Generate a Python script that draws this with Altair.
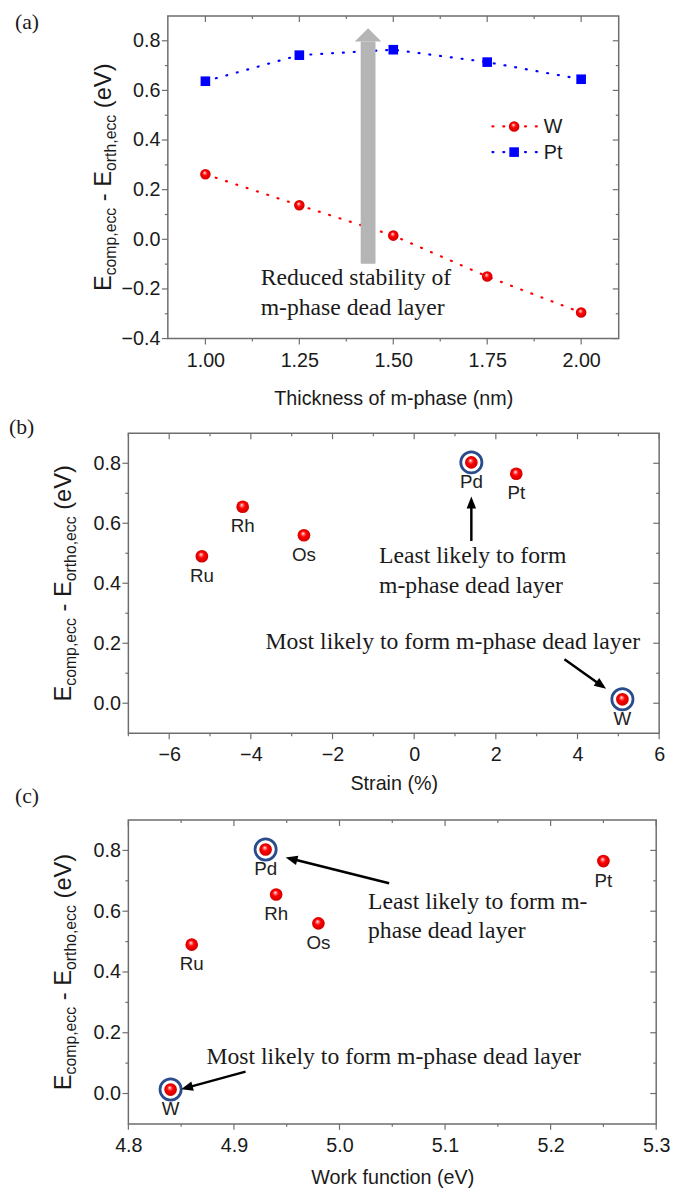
import math
import altair as alt
import pandas as pd

# ---------------- data ----------------
# panel (a)
thickness_nm = [1.00, 1.25, 1.50, 1.75, 2.00]
w_energy_a = [0.262, 0.137, 0.015, -0.150, -0.295]
pt_energy_a = [0.637, 0.742, 0.764, 0.714, 0.645]

# panels (b) and (c)
metals = ["Ru", "Rh", "Os", "Pd", "Pt", "W"]
strain_pct = [-5.2, -4.2, -2.7, 1.4, 2.5, 5.1]
work_function_ev = [4.86, 4.94, 4.98, 4.93, 5.25, 4.84]
energy_diff = [0.490, 0.655, 0.560, 0.803, 0.765, 0.013]
highlighted = ["Pd", "W"]

# tick values
a_x_ticks = [1.0, 1.125, 1.25, 1.375, 1.5, 1.625, 1.75, 1.875, 2.0]
a_x_major = [1.0, 1.25, 1.5, 1.75, 2.0]
a_y_ticks = [-0.4, -0.3, -0.2, -0.1, 0.0, 0.1, 0.2, 0.3, 0.4, 0.5, 0.6, 0.7, 0.8]
a_y_major = [-0.4, -0.2, 0.0, 0.2, 0.4, 0.6, 0.8]
b_x_ticks = [-7, -6, -5, -4, -3, -2, -1, 0, 1, 2, 3, 4, 5, 6]
b_x_major = [-6, -4, -2, 0, 2, 4, 6]
bc_y_ticks = [0.0, 0.1, 0.2, 0.3, 0.4, 0.5, 0.6, 0.7, 0.8]
bc_y_major = [0.0, 0.2, 0.4, 0.6, 0.8]
c_x_ticks = [4.8, 4.85, 4.9, 4.95, 5.0, 5.05, 5.1, 5.15, 5.2, 5.25, 5.3]
c_x_major = [4.8, 4.9, 5.0, 5.1, 5.2, 5.3]

# annotations (data coordinates)
a_note = ["Reduced stability of", "m-phase dead layer"]
a_note_xy = (1.147, -0.185)
a_arrow = (1.433, -0.098, 0.797)  # x, bottom, head base
b_least = ["Least likely to form", "m-phase dead layer"]
b_least_xy = (-0.86, 0.466)
b_most = "Most likely to form m-phase dead layer"
b_most_xy = (-3.64, 0.18)
b_arrows = [((1.4, 0.541), (1.4, 0.689)), ((3.68, 0.147), (4.70, 0.048))]
c_least = ["Least likely to form m-", "phase dead layer"]
c_least_xy = (5.027, 0.608)
c_most = "Most likely to form m-phase dead layer"
c_most_xy = (4.874, 0.098)
c_arrows = [((5.047, 0.692), (4.949, 0.777)), ((4.911, 0.072), (4.850, 0.014))]

# ---------------- style ----------------
FONT = "Liberation Sans"
SERIF = "Liberation Serif"
GRAY = "#6e6e6e"
TXT = "#1a1a1a"
RING = "#2b4c8c"
SPHERE = {
    "gradient": "radial", "x1": 0.42, "y1": 0.34, "r1": 0.0,
    "x2": 0.5, "y2": 0.5, "r2": 0.55,
    "stops": [
        {"offset": 0.0, "color": "#ffffff"},
        {"offset": 0.18, "color": "#ff8080"},
        {"offset": 0.42, "color": "#ff0000"},
        {"offset": 1.0, "color": "#c80000"},
    ],
}
ONE = pd.DataFrame({"k": [0]})

ARIAL = {"E": 667, "c": 500, "o": 556, "m": 833, "p": 556, ",": 278, "e": 556,
         "r": 333, "t": 278, "h": 556, "-": 333, " ": 278, "(": 333, ")": 333, "V": 667}


def tw(s, size):
    return sum(ARIAL[ch] for ch in s) * size / 1000.0


def xaxis(major, fmt, title, title_pad):
    return alt.Axis(values=major, format=fmt, ticks=False, tickSize=0, labelPadding=12,
                    title=title, titlePadding=title_pad)


def yaxis(major, fmt):
    return alt.Axis(values=major, format=fmt, ticks=False, tickSize=0, labelPadding=8, title=None)


def frame_ticks(xs, ys, xax, yax, xticks, xmajor, yticks, ymajor, W, H):
    layers = []
    for major, ln in ((True, 6), (False, 3)):
        xv = [v for v in xticks if (v in xmajor) == major]
        yv = [v for v in yticks if (v in ymajor) == major]
        dx = pd.DataFrame({"v": xv})
        dy = pd.DataFrame({"v": yv})
        X = alt.X("v:Q", scale=xs, axis=xax)
        Y = alt.Y("v:Q", scale=ys, axis=yax)
        layers.append(alt.Chart(dx).mark_rule(color=GRAY, strokeWidth=1.2).encode(
            x=X, y=alt.value(H), y2=alt.value(H + ln)))
        layers.append(alt.Chart(dx).mark_rule(color=GRAY, strokeWidth=1.2).encode(
            x=X, y=alt.value(0), y2=alt.value(ln)))
        layers.append(alt.Chart(dy).mark_rule(color=GRAY, strokeWidth=1.2).encode(
            y=Y, x=alt.value(0), x2=alt.value(-ln)))
        layers.append(alt.Chart(dy).mark_rule(color=GRAY, strokeWidth=1.2).encode(
            y=Y, x=alt.value(W), x2=alt.value(W - ln)))
    return layers


def ytitle(sub2, H, F=24, S=16, x=-58, shift=5):
    pieces = [("E", F, 0), ("comp,ecc", S, shift), (" ", F, None), ("-", F, 0), (" ", F, None),
              ("E", F, 0), (sub2, S, shift), (" ", F, None), ("(eV)", F, 0)]
    total = sum(tw(t, sz) for t, sz, _ in pieces)
    y0 = H / 2 + total / 2
    d = 0.0
    layers = []
    for t, sz, sh in pieces:
        if sh is not None:
            layers.append(alt.Chart(ONE).mark_text(
                text=t, font=FONT, fontSize=sz, angle=270, align="left",
                baseline="alphabetic", color=TXT).encode(x=alt.value(x + sh), y=alt.value(y0 - d)))
        d += tw(t, sz)
    return layers


def panel_label(txt, x, y):
    return alt.Chart(ONE).mark_text(text=txt, font=SERIF, fontSize=22, align="left",
                                    baseline="alphabetic", color=TXT).encode(
        x=alt.value(x), y=alt.value(y))


def note(lines, xy, xs, ys, xax, yax):
    df = pd.DataFrame({"x": [xy[0]], "y": [xy[1]]})
    return alt.Chart(df).mark_text(text=lines, font=SERIF, fontSize=24, lineHeight=30,
                                   align="left", baseline="alphabetic", color=TXT).encode(
        x=alt.X("x:Q", scale=xs, axis=xax), y=alt.Y("y:Q", scale=ys, axis=yax))


def arrows(arrs, xs, ys, xax, yax, dom_x, dom_y, W, H):
    kx = W / (dom_x[1] - dom_x[0])
    ky = H / (dom_y[1] - dom_y[0])
    rows = []
    for (x0, y0), (x1, y1) in arrs:
        dx = (x1 - x0) * kx
        dy = -(y1 - y0) * ky
        L = math.hypot(dx, dy)
        ux, uy = dx / L, dy / L
        ang = math.degrees(math.atan2(dx, -dy)) % 360
        rows.append({"x0": x0, "y0": y0, "xe": x1 - 9 * ux / kx, "ye": y1 + 9 * uy / ky,
                     "xt": x1, "yt": y1, "ang": ang})
    df = pd.DataFrame(rows)
    line = alt.Chart(df).mark_rule(color="black", strokeWidth=2.5).encode(
        x=alt.X("x0:Q", scale=xs, axis=xax), y=alt.Y("y0:Q", scale=ys, axis=yax),
        x2="xe:Q", y2="ye:Q")
    head = alt.Chart(df).mark_point(shape="M0,0L-0.8,2L0.8,2Z", size=144, filled=True,
                                    color="black", opacity=1).encode(
        x=alt.X("xt:Q", scale=xs, axis=xax), y=alt.Y("yt:Q", scale=ys, axis=yax),
        angle=alt.Angle("ang:Q", scale=None))
    return [line, head]


# ---------------- panel (a) ----------------
WA, HA = 457, 327
dom_xa, dom_ya = [0.9, 2.1], [-0.4, 0.9]
xa = alt.Scale(domain=dom_xa, nice=False, zero=False)
ya = alt.Scale(domain=dom_ya, nice=False, zero=False)
xaxA = xaxis(a_x_major, ".2f", "Thickness of m-phase (nm)", 19)
yaxA = yaxis(a_y_major, ".1f")
n = len(thickness_nm)
dfa = pd.DataFrame({"t": thickness_nm + thickness_nm, "E": w_energy_a + pt_energy_a,
                    "s": ["W"] * n + ["Pt"] * n})

xA = alt.X("t:Q", scale=xa, axis=xaxA)
yA = alt.Y("E:Q", scale=ya, axis=yaxA)

lines_a = alt.Chart(dfa).mark_line(strokeDash=[1, 10], strokeWidth=2.2, strokeCap="round").encode(
    x=xA, y=yA, color=alt.Color("s:N", scale=alt.Scale(domain=["W", "Pt"], range=["#ff0000", "#0000ff"]),
                                legend=None))
arr_df = pd.DataFrame({"x": [a_arrow[0]], "y0": [a_arrow[1]], "y1": [a_arrow[2]]})
shaft = alt.Chart(arr_df).mark_rule(color="#b5b5b5", strokeWidth=15, strokeCap="butt").encode(
    x=alt.X("x:Q", scale=xa, axis=xaxA), y=alt.Y("y0:Q", scale=ya, axis=yaxA), y2="y1:Q")
ahead = alt.Chart(arr_df).mark_point(shape="M0,-1L1,0L-1,0Z", size=729, filled=True,
                                     color="#b5b5b5", opacity=1).encode(
    x=alt.X("x:Q", scale=xa, axis=xaxA), y=alt.Y("y1:Q", scale=ya, axis=yaxA))
w_pts = alt.Chart(dfa).transform_filter(alt.datum.s == "W").mark_circle(
    size=115, fill=SPHERE, opacity=1).encode(x=xA, y=yA)
pt_pts = alt.Chart(dfa).transform_filter(alt.datum.s == "Pt").mark_square(
    size=95, color="#0000ff", opacity=1).encode(x=xA, y=yA)

legend_a = [
    alt.Chart(ONE).mark_rule(color="#ff0000", strokeDash=[1, 10], strokeWidth=2.2, strokeCap="round").encode(
        x=alt.value(329), x2=alt.value(374), y=alt.value(112)),
    alt.Chart(ONE).mark_circle(size=115, fill=SPHERE, opacity=1).encode(x=alt.value(351), y=alt.value(112)),
    alt.Chart(ONE).mark_text(text="W", font=FONT, fontSize=20, align="left", baseline="middle",
                             color=TXT).encode(x=alt.value(381), y=alt.value(113)),
    alt.Chart(ONE).mark_rule(color="#0000ff", strokeDash=[1, 10], strokeWidth=2.2, strokeCap="round").encode(
        x=alt.value(329), x2=alt.value(374), y=alt.value(138)),
    alt.Chart(ONE).mark_square(size=95, color="#0000ff", opacity=1).encode(x=alt.value(351), y=alt.value(138)),
    alt.Chart(ONE).mark_text(text="Pt", font=FONT, fontSize=20, align="left", baseline="middle",
                             color=TXT).encode(x=alt.value(381), y=alt.value(139)),
]

chartA = alt.layer(
    lines_a, shaft, ahead, w_pts, pt_pts, *legend_a,
    note(a_note, a_note_xy, xa, ya, xaxA, yaxA),
    *frame_ticks(xa, ya, xaxA, yaxA, a_x_ticks, a_x_major, a_y_ticks, a_y_major, WA, HA),
    *ytitle("orth,ecc", HA),
    panel_label("(a)", -155, 13),
).properties(width=WA, height=HA)


# ---------------- panels (b), (c) ----------------
dfm = pd.DataFrame({"metal": metals, "strain": strain_pct, "wf": work_function_ev, "E": energy_diff})


def metal_panel(xfield, dom_x, dom_y, W, H, xticks, xmajor, xfmt, xtitle, tpad,
                least, least_xy, most, most_xy, arrs, labels_extra):
    xs = alt.Scale(domain=dom_x, nice=False, zero=False)
    ys = alt.Scale(domain=dom_y, nice=False, zero=False)
    xax = xaxis(xmajor, xfmt, xtitle, tpad)
    yax = yaxis(bc_y_major, ".1f")
    X = alt.X(f"{xfield}:Q", scale=xs, axis=xax)
    Y = alt.Y("E:Q", scale=ys, axis=yax)
    ring = alt.Chart(dfm).transform_filter(
        alt.FieldOneOfPredicate(field="metal", oneOf=highlighted)).mark_point(
        shape="circle", filled=False, size=460, strokeWidth=2.8, color=RING, opacity=1).encode(x=X, y=Y)
    pts = alt.Chart(dfm).mark_circle(size=165, fill=SPHERE, opacity=1).encode(x=X, y=Y)
    labels = alt.Chart(dfm).mark_text(dy=20, font=FONT, fontSize=19, baseline="middle",
                                      color="#222222").encode(x=X, y=Y, text="metal:N")
    layers = [ring, pts, labels,
              *arrows(arrs, xs, ys, xax, yax, dom_x, dom_y, W, H),
              note(least, least_xy, xs, ys, xax, yax), note(most, most_xy, xs, ys, xax, yax),
              *frame_ticks(xs, ys, xax, yax, xticks, xmajor, bc_y_ticks, bc_y_major, W, H),
              *ytitle("ortho,ecc", H),
              *labels_extra]
    return alt.layer(*layers).properties(width=W, height=H)


chartB = metal_panel("strain", [-7, 6], [-0.1, 0.9], 538, 304, b_x_ticks, b_x_major, "d",
                     "Strain (%)", 9, b_least, b_least_xy, b_most, b_most_xy, b_arrows,
                     [panel_label("(b)", -121, 1), panel_label("(c)", -115, 375)])
chartC = metal_panel("wf", [4.8, 5.3], [-0.1, 0.9], 535, 308, c_x_ticks, c_x_major, ".1f",
                     "Work function (eV)", 12, c_least, c_least_xy, c_most, c_most_xy, c_arrows,
                     [])

spacer = alt.Chart(ONE).mark_point(opacity=0).encode(x=alt.value(0), y=alt.value(0)).properties(
    width=40, height=HA, view=alt.ViewBackground(stroke="transparent"))
rowA = alt.hconcat(spacer, chartA, spacing=0, bounds="flush")

top = alt.vconcat(rowA, chartB, spacing=6)
chart = alt.vconcat(top, chartC, spacing=10).properties(
    padding={"left": 0, "top": -6, "right": 0, "bottom": 0}
).configure(background="white").configure_view(
    stroke=GRAY, strokeWidth=1.5
).configure_axis(
    domain=False, grid=False,
    labelFont=FONT, labelFontSize=20, labelColor=TXT, labelFlush=False, labelOverlap=False,
    titleFont=FONT, titleFontSize=20, titleColor=TXT, titleFontWeight="normal",
)

chart.save("out.html", embed_options={"renderer": "svg", "actions": False})
